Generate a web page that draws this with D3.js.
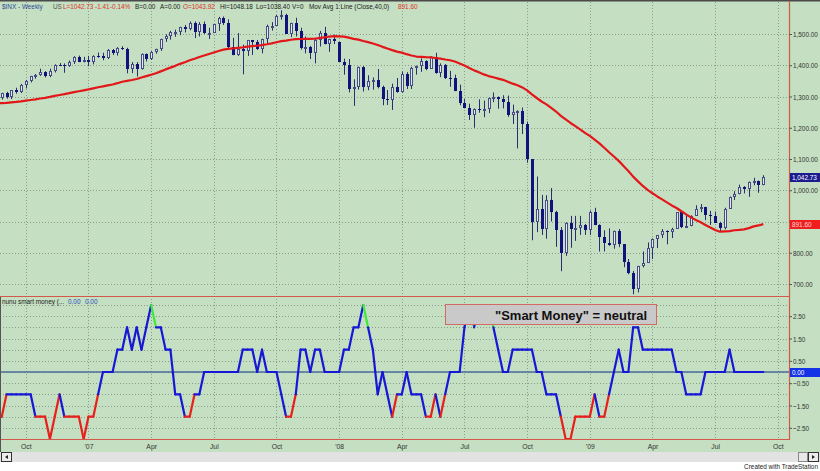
<!DOCTYPE html>
<html>
<head>
<meta charset="utf-8">
<script src="https://cdn.jsdelivr.net/npm/d3@7/dist/d3.min.js"></script>
<style>
html,body{margin:0;padding:0;background:#fff;}
svg{display:block;}
text{font-family:"Liberation Sans",Arial,sans-serif;}
</style>
</head>
<body>
<svg id="chart" width="820" height="471"></svg>
<script>
// ---------------- DATA ----------------
const firstWeek = "2006-08-25";   // weekly bars (Friday dates)
const opens = [
1302.3,1295.1,1311.0,1298.9,1319.7,1314.8,1335.9,1349.6,1365.6,1368.6,
1377.3,1364.3,1380.9,1401.2,1400.9,1396.7,1409.8,1427.1,1410.8,1418.3,
1409.7,1430.7,1430.5,1422.2,1448.4,1438.1,1455.5,1451.2,1387.2,1402.8,
1386.9,1436.1,1420.9,1443.8,1452.9,1484.4,1494.1,1505.6,1505.9,1522.8,
1515.7,1536.3,1507.7,1532.9,1502.6,1503.4,1530.4,1552.5,1534.1,1459.0,
1433.1,1453.6,1445.9,1479.4,1474.0,1453.6,1484.3,1525.8,1526.8,1557.6,
1561.8,1500.6,1535.3,1509.7,1453.7,1458.7,1440.7,1481.1,1504.7,1468.0,
1484.5,1476.0,1411.6,1401.0,1325.2,1330.6,1395.4,1331.3,1350.0,1353.1,
1330.6,1293.4,1288.1,1329.5,1315.2,1370.4,1332.8,1390.3,1397.8,1413.9,
1388.3,1425.4,1375.9,1400.4,1360.7,1360.0,1317.9,1278.4,1262.9,1239.5,
1260.7,1257.8,1260.3,1296.3,1298.2,1292.2,1282.8,1242.3,1251.7,1255.1,
1213.3,1099.2,899.2,940.6,876.8,968.8,931.0,873.3,800.0,896.2,
876.1,879.7,887.9,872.8,931.8,890.4,850.1,832.0,825.9,868.6,
826.8,770.1,735.1,683.4,756.6,768.5,815.9,842.5,856.6,869.6,
866.2,877.5,929.2,882.9,887.0,919.1,940.1,946.2,921.2,918.9,
896.4,879.1,940.4,979.3,987.5,1010.5,1004.1,1026.1,1028.9,1016.4];
const highs = [
1305,1312,1315,1320,1328,1340,1353,1366,1372,1389,
1381,1389,1403,1407,1406,1415,1429,1431,1427,1430,
1432,1441,1440,1452,1452,1458,1461,1456,1410,1410,
1438,1438,1445,1453,1485,1499,1510,1514,1523,1529,
1540,1540,1538,1540,1520,1532,1555,1556,1547,1488,
1503,1466,1481,1481,1481,1485,1530,1538,1561,1576,
1565,1536,1552,1520,1492,1462,1488,1510,1523,1485,
1498,1476,1421,1420,1355,1396,1397,1368,1361,1388,
1335,1321,1341,1359,1380,1378,1395,1399,1422,1416,
1429,1440,1406,1404,1382,1370,1338,1292,1277,1262,
1291,1287,1297,1313,1300,1304,1303,1274,1256,1265,
1220,1100,1044,985,984,1007,934,882,897,918,
918,918,892,935,944,891,872,878,871,876,
828,780,742,758,804,833,846,857,876,872,
880,930,930,924,920,952,956,947,934,932,
899,944,980,997,1018,1013,1028,1040,1031,1048.2];
const lows = [
1291,1290,1293,1292,1309,1311,1326,1345,1357,1366,
1361,1362,1377,1398,1376,1395,1404,1410,1409,1397,
1403,1424,1416,1420,1433,1431,1449,1374,1375,1364,
1386,1412,1417,1437,1446,1475,1482,1491,1496,1505,
1512,1487,1492,1500,1484,1503,1510,1529,1450,1432,
1430,1371,1430,1433,1449,1438,1471,1511,1527,1546,
1500,1490,1492,1450,1438,1420,1406,1460,1467,1443,
1468,1411,1370,1313,1270,1322,1316,1320,1322,1326,
1272,1273,1257,1312,1312,1324,1324,1370,1379,1384,
1388,1373,1362,1356,1331,1317,1272,1262,1225,1200,
1248,1234,1247,1282,1261,1262,1235,1212,1134,1180,
1088,840,866,857,845,900,819,741,790,816,
838,857,857,857,888,804,804,822,813,818,
754,731,667,673,753,767,780,815,847,827,
847,878,879,879,885,919,930,904,889,896,
869,875,940,969,987,990,979,1016,992,1016];
const closes = [
1295.1,1311.0,1298.9,1319.7,1314.8,1335.9,1349.6,1365.6,1368.6,1377.3,
1364.3,1380.9,1401.2,1400.9,1396.7,1409.8,1427.1,1410.8,1418.3,1409.7,
1430.7,1430.5,1422.2,1448.4,1438.1,1455.5,1451.2,1387.2,1402.8,1386.9,
1436.1,1420.9,1443.8,1452.9,1484.4,1494.1,1505.6,1505.9,1522.8,1515.7,
1536.3,1507.7,1532.9,1502.6,1503.4,1530.4,1552.5,1534.1,1459.0,1433.1,
1453.6,1445.9,1479.4,1474.0,1453.6,1484.3,1525.8,1526.8,1557.6,1561.8,
1500.6,1535.3,1509.7,1453.7,1458.7,1440.7,1481.1,1504.7,1468.0,1484.5,
1478.5,1411.6,1401.0,1325.2,1330.6,1395.4,1331.3,1350.0,1353.1,1330.6,
1293.4,1288.1,1329.5,1315.2,1370.4,1332.8,1390.3,1397.8,1413.9,1388.3,
1425.4,1375.9,1400.4,1360.7,1360.0,1317.9,1278.4,1262.9,1239.5,1260.7,
1257.8,1260.3,1296.3,1298.2,1292.2,1282.8,1242.3,1251.7,1255.1,1213.3,
1099.2,899.2,940.6,876.8,968.8,931.0,873.3,800.0,896.2,876.1,
879.7,887.9,872.8,931.8,890.4,850.1,832.0,825.9,868.6,826.8,
770.1,735.1,683.4,756.6,768.5,815.9,842.5,856.6,869.6,866.2,
877.5,929.2,882.9,887.0,919.1,940.1,946.2,921.2,918.9,896.4,
879.1,940.4,979.3,987.5,1010.5,1004.1,1026.1,1028.9,1016.4,1042.73];
// 40-week moving average of close
const ma40 = [
1278.0,1279.0,1279.9,1281.4,1282.6,1284.2,1286.8,1288.8,1290.8,1293.7,
1295.7,1298.6,1302.0,1304.8,1307.5,1310.6,1314.2,1316.8,1319.7,1322.6,
1325.9,1329.5,1332.3,1335.7,1338.5,1342.6,1347.2,1349.9,1352.8,1356.1,
1360.7,1365.1,1369.5,1374.2,1380.4,1386.7,1392.4,1398.1,1404.5,1409.8,
1415.8,1420.7,1426.6,1431.2,1435.9,1440.7,1445.8,1450.0,1452.3,1453.7,
1455.9,1457.5,1459.5,1461.3,1462.7,1464.6,1467.1,1470.0,1473.5,1477.3,
1479.0,1481.6,1483.8,1484.0,1484.5,1484.1,1484.8,1487.8,1489.4,1491.9,
1492.9,1492.7,1491.6,1488.4,1484.6,1482.1,1477.7,1473.8,1469.6,1465.0,
1458.9,1453.4,1448.3,1443.6,1440.3,1435.4,1431.3,1427.9,1426.8,1425.7,
1425.0,1423.2,1421.2,1418.4,1416.1,1411.9,1405.7,1399.1,1391.2,1383.6,
1377.6,1370.7,1365.4,1361.5,1357.3,1353.4,1347.4,1341.1,1335.8,1329.0,
1319.5,1306.7,1295.2,1284.0,1274.9,1263.3,1251.9,1238.1,1226.7,1215.3,
1205.0,1195.0,1183.6,1174.0,1162.0,1149.9,1135.9,1121.6,1108.0,1094.0,
1077.6,1061.6,1043.6,1028.5,1013.8,1001.2,990.3,980.2,970.9,961.0,
951.5,943.3,932.9,922.6,913.3,904.7,897.3,889.1,880.7,872.8,
867.3,868.3,869.3,872.0,873.1,874.9,878.7,884.4,887.4,891.6];
// "nunu smart money" indicator, one value per week
const smartMoney = [
-2,-2,-1,-1,-1,-1,-1,-1,-2,-2,
-2,-3,-2,-1,-2,-2,-2,-2,-3,-2,
-2,-1,0,0,0,1,1,2,1,2,
1,2,3,2,2,1,1,-1,-1,-2,
-2,-1,-1,0,0,0,0,0,0,0,
0,1,1,1,0,1,0,0,0,-1,
-2,-2,-1,1,1,0,1,1,0,0,
0,0,1,1,2,2,3,2,1,-1,
0,-1,-2,-1,-1,0,-1,-1,-1,-2,
-2,-1,-2,-1,0,0,0,2,3,2,
3,3,3,2,1,0,0,1,1,1,
1,1,0,0,-1,-1,-1,-2,-3,-3,
-2,-2,-2,-2,-1,-2,-2,-1,0,1,
0,0,2,2,1,1,1,1,1,1,
1,0,0,-1,-1,-1,-1,0,0,0,
0,0,1,0,0,0,0,0,0,0];
const priceTicks = [700,800,900,1000,1100,1200,1300,1400,1500];
const smTicks = [2.5,1.5,0.5,-0.5,-1.5,-2.5];
const smGrid = [-3,-2.5,-2,-1.5,-1,-0.5,0,0.5,1,1.5,2,2.5,3];
const monthLabels = ["Jan","Feb","Mar","Apr","May","Jun","Jul","Aug","Sep","Oct","Nov","Dec"];
const headerParts = ["$INX - Weekly","US","L=1042.73","-1.41","-0.14%","B=0.00","A=0.00","O=1043.92","Hi=1048.18","Lo=1038.40","V=0","Mov Avg 1 Line (Close,40,0)","891.60"];
const indicatorTitle = ["nunu smart money (...", "0.00", "0.00"];
const noteText = "\"Smart Money\" = neutral";
const lastPrice = 1042.73, lastMA = 891.60, lastSM = 0.00;

// ---------------- LAYOUT ----------------
const svg = d3.select("#chart");
const plotR = 789;
const C = {
  bg:"#c4dfc1", grid:"#8b9b8b", border:"#d2584a", down:"#12127c", upFill:"#e3eaec",
  upStroke:"#4a4a86", wick:"#2c2c70", ma:"#e3171a", blue:"#1717d6", red:"#e8201c",
  green:"#3fe83c", zero:"#4d6c9a"
};
// condense small texts horizontally (narrow-face look)
const narrow = (sel, f) => sel.each(function(){
  const t = d3.select(this);
  const x0 = +t.attr("x") || 0;
  const tr = t.attr("transform") || "";
  t.attr("x", x0 / f).attr("transform", (tr + ` scale(${f},1)`).trim());
});
const nSlots = 166;
const parse = d3.timeParse("%Y-%m-%d");
const dates = d3.range(nSlots).map(i => d3.timeWeek.offset(parse(firstWeek), i));
const x = d3.scaleLinear().domain([0.643, 164.33]).range([0, plotR]);
const y = d3.scaleLinear().domain([700, 1500]).range([284, 34]);
const ys = d3.scaleLinear().domain([-3, 3]).range([439, 305]);
const idx = d3.range(closes.length);

// quarter ticks: first bar of Jan/Apr/Jul/Oct
const qTicks = [];
for (let i = 1; i < nSlots; i++) {
  const m = dates[i].getMonth();
  if (m !== dates[i-1].getMonth() && m % 3 === 0) qTicks.push(i);
}
const qLabel = i => { const d = dates[i]; return d.getMonth() === 0 ? "'" + String(d.getFullYear()).slice(2) : monthLabels[d.getMonth()]; };

// background
svg.append("rect").attr("x",0).attr("y",0).attr("width",820).attr("height",452).attr("fill",C.bg);
svg.append("rect").attr("x",0).attr("y",452).attr("width",820).attr("height",10).attr("fill","#e2e2e2");
svg.append("rect").attr("x",0).attr("y",462).attr("width",820).attr("height",9).attr("fill","#ffffff");
svg.append("rect").attr("x",0).attr("y",0).attr("width",820).attr("height",1.5).attr("fill","#4a4a4a");

const defs = svg.append("defs");
defs.append("clipPath").attr("id","clipTop").append("rect").attr("x",0).attr("y",1).attr("width",plotR).attr("height",295);
defs.append("clipPath").attr("id","clipBot").append("rect").attr("x",0).attr("y",297).attr("width",plotR).attr("height",143);

// grid
const grid = svg.append("g").attr("stroke",C.grid).attr("stroke-width",1).attr("stroke-dasharray","1,2");
grid.selectAll("line.h").data(priceTicks).join("line")
  .attr("x1",0).attr("x2",plotR).attr("y1",d=>Math.round(y(d))+0.5).attr("y2",d=>Math.round(y(d))+0.5);
grid.selectAll("line.hs").data(smGrid).join("line")
  .attr("x1",0).attr("x2",plotR).attr("y1",d=>Math.round(ys(d))+0.5).attr("y2",d=>Math.round(ys(d))+0.5);
grid.selectAll("line.v").data(qTicks).join("line")
  .attr("x1",d=>Math.round(x(d))+0.5).attr("x2",d=>Math.round(x(d))+0.5).attr("y1",2).attr("y2",439);

// ------- candles -------
const gc = svg.append("g").attr("clip-path","url(#clipTop)");
gc.selectAll("line.wick").data(idx).join("line")
  .attr("x1",i=>Math.round(x(i))+0.5).attr("x2",i=>Math.round(x(i))+0.5)
  .attr("y1",i=>y(highs[i])).attr("y2",i=>y(lows[i]))
  .attr("stroke",C.wick).attr("stroke-width",1);
gc.selectAll("rect.body").data(idx).join("rect")
  .attr("x",i=>Math.round(x(i))-1 + (closes[i]>=opens[i]?0.5:0))
  .attr("width",i=>closes[i]>=opens[i]?2:3)
  .attr("y",i=>{const t=Math.round(y(Math.max(opens[i],closes[i]))); return closes[i]>=opens[i]?t+0.5:t;})
  .attr("height",i=>{const h=Math.round(y(Math.min(opens[i],closes[i])))-Math.round(y(Math.max(opens[i],closes[i]))); return closes[i]>=opens[i]?Math.max(1,h-1):Math.max(1,h);})
  .attr("fill",i=>closes[i]>=opens[i]?C.upFill:C.down)
  .attr("stroke",i=>closes[i]>=opens[i]?C.upStroke:"none")
  .attr("stroke-width",1);

// ------- moving average -------
gc.append("path").datum(idx)
  .attr("d", d3.line().x(i=>x(i)).y(i=>y(ma40[i])).curve(d3.curveLinear))
  .attr("fill","none").attr("stroke",C.ma).attr("stroke-width",2.2).attr("stroke-linejoin","round");

// ------- indicator panel -------
const gb = svg.append("g").attr("clip-path","url(#clipBot)");
gb.append("line").attr("x1",0).attr("x2",plotR).attr("y1",ys(0)).attr("y2",ys(0))
  .attr("stroke",C.zero).attr("stroke-width",1.6);
// note box
svg.append("rect").attr("x",445.5).attr("y",304.5).attr("width",211).attr("height",20)
  .attr("fill","#c9c9c9").attr("stroke","#d46a64").attr("stroke-width",1);
svg.append("text").attr("x",495).attr("y",320).attr("font-size",13).attr("font-weight","bold")
  .attr("fill","#111").text(noteText);
const segColor = v => v >= 3 ? C.green : (v <= -2 ? C.red : C.blue);
gb.selectAll("line.sm").data(d3.pairs(idx)).join("line")
  .attr("x1",d=>x(d[0])).attr("y1",d=>ys(smartMoney[d[0]]))
  .attr("x2",d=>x(d[1])).attr("y2",d=>ys(smartMoney[d[1]]))
  .attr("stroke",d=>segColor(smartMoney[d[0]])).attr("stroke-width",2.2).attr("stroke-linecap","round");

// ------- borders -------
const bd = svg.append("g").attr("stroke",C.border).attr("stroke-width",1.2);
bd.append("line").attr("x1",plotR+0.5).attr("x2",plotR+0.5).attr("y1",1).attr("y2",440);
bd.append("line").attr("x1",0).attr("x2",plotR+1).attr("y1",296.5).attr("y2",296.5);
bd.append("line").attr("x1",0).attr("x2",plotR+1).attr("y1",439.5).attr("y2",439.5);
svg.append("line").attr("x1",0.5).attr("x2",0.5).attr("y1",297).attr("y2",452).attr("stroke","#555").attr("stroke-width",1);

// ------- axes -------
const styleAxis = g => {
  g.select(".domain").remove();
  g.selectAll(".tick line").attr("stroke","#555");
  g.selectAll(".tick text").attr("fill","#333").attr("font-size",8).call(narrow, 0.8);
};
svg.append("g").attr("transform",`translate(${plotR},0)`)
  .call(d3.axisRight(y).tickValues(priceTicks).tickFormat(d3.format(",.2f")).tickSize(3).tickPadding(1))
  .call(styleAxis);
svg.append("g").attr("transform",`translate(${plotR},0)`)
  .call(d3.axisRight(ys).tickValues(smTicks).tickFormat(d3.format(".2f")).tickSize(3).tickPadding(1))
  .call(styleAxis);
svg.append("g").attr("transform","translate(0,440)")
  .call(d3.axisBottom(x).tickValues(qTicks).tickFormat(qLabel).tickSize(0).tickPadding(3))
  .call(g=>{ g.select(".domain").remove();
    g.selectAll(".tick text").attr("fill","#333").attr("font-size",8).call(narrow, 0.85); });

// last value markers
const marker = (yy, fill, txtFill, label) => {
  svg.append("rect").attr("x",plotR+1).attr("y",Math.round(yy)-4).attr("width",30).attr("height",9).attr("fill",fill);
  svg.append("text").attr("x",plotR+3).attr("y",Math.round(yy)+3.5).attr("font-size",8).attr("fill",txtFill).text(label).call(narrow, 0.8);
};
marker(y(lastPrice), "#1c1c8e", "#ffffff", d3.format(",.2f")(lastPrice));
marker(y(lastMA), "#f01e1e", "#ffd6d6", d3.format(",.2f")(lastMA));
marker(ys(lastSM), "#1432e6", "#ffffff", d3.format(".2f")(lastSM));

// header
const headerX = [2,53,63,95,110,135,160,183,220,256,292,309,398];
const headerC = ["#2f4c9c","#555","#e0302a","#e0302a","#e0302a","#222","#222","#e0302a","#222","#222","#222","#222","#e0302a"];
svg.append("g").selectAll("text").data(headerParts).join("text")
  .attr("x",(d,i)=>headerX[i]).attr("y",9.5).attr("font-size",8).attr("fill",(d,i)=>headerC[i]).text(d=>d)
  .call(narrow, 0.8);
// indicator title
const titleX = [2,68,85];
const titleC = ["#222","#2f4cc0","#2f4cc0"];
svg.append("g").selectAll("text").data(indicatorTitle).join("text")
  .attr("x",(d,i)=>titleX[i]).attr("y",304).attr("font-size",8).attr("fill",(d,i)=>titleC[i]).text(d=>d)
  .call(narrow, 0.8);

// scrollbar + footer
svg.append("rect").attr("x",1.5).attr("y",452.5).attr("width",10).attr("height",9).attr("fill","#ececec").attr("stroke","#333");
svg.append("path").attr("d","M5,457 L8,455 L8,459 Z").attr("fill","#222");
svg.append("rect").attr("x",798.5).attr("y",452.5).attr("width",9).attr("height",9).attr("fill","#e8e8e8").attr("stroke","#888");
svg.append("rect").attr("x",808.5).attr("y",452.5).attr("width",10).attr("height",9).attr("fill","#ececec").attr("stroke","#333");
svg.append("path").attr("d","M815,457 L812,455 L812,459 Z").attr("fill","#222");
svg.append("text").attr("x",818).attr("y",469).attr("text-anchor","end").attr("font-size",8).attr("fill","#222")
  .text("Created with TradeStation").call(narrow, 0.8);
</script>
</body>
</html>
